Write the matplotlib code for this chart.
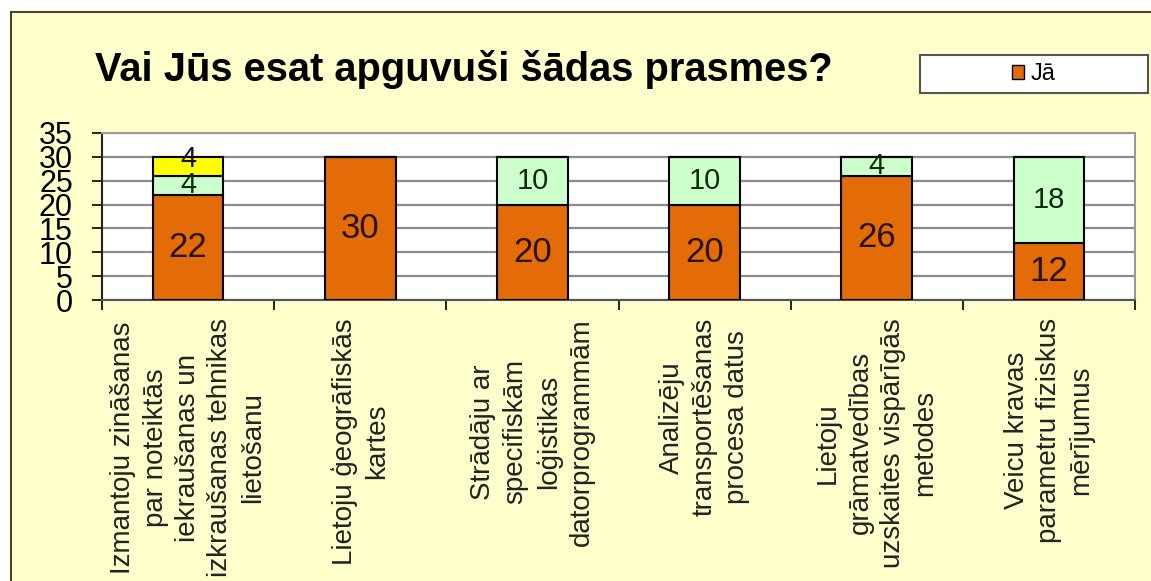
import numpy as np
import matplotlib
matplotlib.use("Agg")
from matplotlib import pyplot as plt
from matplotlib.patches import Rectangle, Patch

plt.rcParams['font.family'] = ['Liberation Sans', 'DejaVu Sans']

# data
categories = [
    "Izmantoju zināšanas\npar noteiktās\niekraušanas un\nizkraušanas tehnikas\nlietošanu",
    "Lietoju ģeogrāfiskās\nkartes",
    "Strādāju ar\nspecifiskām\nloģistikas\ndatorprogrammām",
    "Analizēju\ntransportēšanas\nprocesa datus",
    "Lietoju\ngrāmatvedības\nuzskaites vispārīgās\nmetodes",
    "Veicu kravas\nparametru fiziskus\nmērījumus",
]
ja = [22, 30, 20, 20, 26, 12]
green_vals = [4, 0, 10, 10, 4, 18]
yellow_vals = [4, 0, 0, 0, 0, 0]
yticks = [0, 5, 10, 15, 20, 25, 30, 35]

ORANGE = '#E36C09'
GREEN = '#CCFFCC'
YELLOW = '#FFFF00'
BG = '#FFFFCC'

fig = plt.figure(figsize=(11.51, 5.81), dpi=100)
fig.patch.set_facecolor('white')
# slide frame
frame = Rectangle((11 / 1151, -0.1), 1.2, 1 - 12 / 581 + 0.1, transform=fig.transFigure,
                  facecolor=BG, edgecolor='#4a4625', lw=1.5, zorder=-5)
fig.patches.append(frame)

ax = fig.add_axes([102 / 1151, 1 - 300 / 581, (1135 - 102) / 1151, (300 - 133) / 581])
ax.set_facecolor('white')

x = np.arange(len(categories))
w = 0.41
b1 = ax.bar(x, ja, w, color=ORANGE, edgecolor='black', lw=1.5, zorder=3)
b2 = ax.bar(x, green_vals, w, bottom=ja, color=GREEN, edgecolor='black', lw=1.5, zorder=3)
bottom3 = [a + b for a, b in zip(ja, green_vals)]
b3 = ax.bar(x, yellow_vals, w, bottom=bottom3, color=YELLOW, edgecolor='black', lw=1.5, zorder=3)

for i in range(len(x)):
    ax.text(x[i], ja[i] / 2, str(ja[i]), ha='center', va='center', fontsize=25,
            color='#2a1200', zorder=4)
    if green_vals[i]:
        ax.text(x[i], ja[i] + green_vals[i] / 2, str(green_vals[i]), ha='center',
                va='center', fontsize=21, color='#0f2a0f', zorder=4)
    if yellow_vals[i]:
        ax.annotate(str(yellow_vals[i]), (x[i], bottom3[i] + yellow_vals[i] / 2),
                    xytext=(0, 5), textcoords='offset points', ha='center',
                    va='center', fontsize=21, color='#111', zorder=4)

ax.set_xlim(-0.5, len(categories) - 0.5)
ax.set_ylim(0, 35)
ax.set_yticks(yticks)
ax.set_yticklabels([str(t) for t in yticks], fontsize=22)
ax.tick_params(axis='y', length=7, width=1.2, pad=14, direction='out')
ax.yaxis.grid(True, color='#8c8c8c', lw=1.6, zorder=1)
ax.set_axisbelow(True)

ax.set_xticks(x)
ax.set_xticklabels(categories, rotation=90, fontsize=20, color='#222',
                   linespacing=1.32, ha='center', va='top', multialignment='center')
ax.tick_params(axis='x', which='major', length=0, pad=13)
ax.set_xticks(np.arange(len(categories) + 1) - 0.5, minor=True)
ax.tick_params(axis='x', which='minor', length=7, width=1.2, direction='out')

for s in ['top', 'right']:
    ax.spines[s].set_color('#9a9a9a')
    ax.spines[s].set_linewidth(1.5)
ax.spines['left'].set_color('#222')
ax.spines['bottom'].set_color('#555')
ax.spines['left'].set_linewidth(1.5)
ax.spines['bottom'].set_linewidth(1.5)

fig.text(95 / 1151, 1 - 70 / 581, "Vai Jūs esat apguvuši šādas prasmes?", fontsize=28.7,
         fontweight='bold', ha='left', va='center', color='black')

# legend box
lx0, lx1, ly0, ly1 = 920, 1148, 55, 93
fig.patches.append(Rectangle((lx0 / 1151, 1 - ly1 / 581), (lx1 - lx0) / 1151, (ly1 - ly0) / 581,
                             transform=fig.transFigure, facecolor='white',
                             edgecolor='#555', lw=1.5, zorder=1))
fig.legend(handles=[Patch(facecolor=ORANGE, edgecolor='black', label='Jā')],
           loc='center', bbox_to_anchor=((lx0 + lx1) / 2 / 1151, 1 - (ly0 + ly1) / 2 / 581),
           frameon=False, fontsize=17, handlelength=0.5, handleheight=0.55,
           handletextpad=0.3, borderpad=0)

fig.savefig('out.png', dpi=100)
